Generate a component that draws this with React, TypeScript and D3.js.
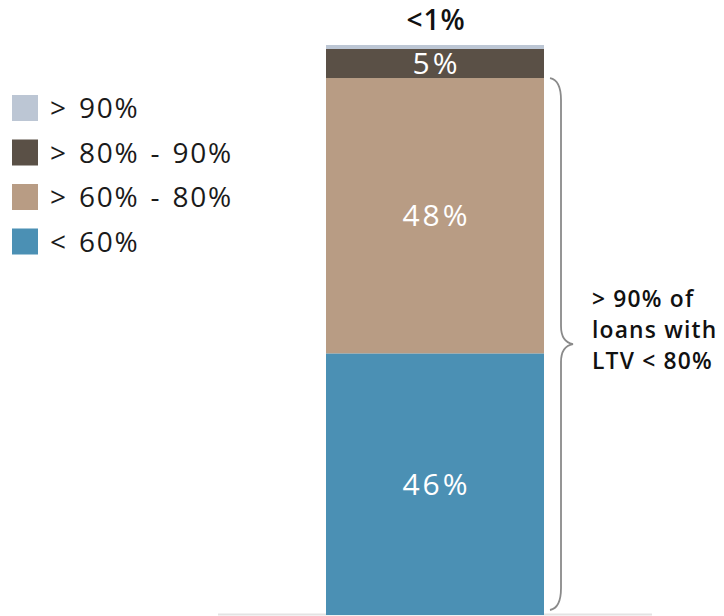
import React from "react";
import * as d3 from "d3";

const categories = ["< 60%", "> 60% - 80%", "> 80% - 90%", "> 90%"];
const values = [45.9, 48.3, 5.1, 0.7];
const valueLabels = ["46%", "48%", "5%", "<1%"];
const colors = ["#4b90b4", "#b89c84", "#5a5046", "#bcc6d4"];
const legendOrder = ["> 90%", "> 80% - 90%", "> 60% - 80%", "< 60%"];
const bracketLines = ["> 90% of", "loans with", "LTV < 80%"];

const W = 724;
const H = 616;
const FONT = "'Open Sans', 'DejaVu Sans', sans-serif";

export default function App() {
  const y = d3.scaleLinear().domain([0, 100]).range([615, 45]);
  const x = d3.scaleBand().domain(["LTV"]).range([326, 544]).padding(0);
  const bx = x("LTV")!;
  const bw = x.bandwidth();
  const cx = bx + bw / 2;

  const stack = d3.stack<any>().keys(categories)([
    Object.fromEntries(categories.map((c, i) => [c, values[i]])),
  ]);

  const top = y(values[0] + values[1]);
  const bot = y(0) - 5;
  const mid = (top + bot) / 2;
  const bxL = bx + bw + 6;
  const bxV = bxL + 11;
  const tipX = bxV + 12;
  const bracket = `M${bxL},${top} Q${bxV},${top + 2} ${bxV},${top + 22} L${bxV},${mid - 18} Q${bxV},${mid - 2} ${tipX},${mid} Q${bxV},${mid + 2} ${bxV},${mid + 18} L${bxV},${bot - 22} Q${bxV},${bot - 2} ${bxL},${bot}`;

  return (
    <svg width={W} height={H} style={{ position: "absolute", left: 0, top: 0 }}>
      <rect width={W} height={H} fill="#fff" />
      <line x1={218} x2={652} y1={614.5} y2={614.5} stroke="#e3e3e3" strokeWidth={2} />
      {stack.map((s, i) => {
        const d = s[0];
        return (
          <rect key={categories[i]} x={bx} width={bw} y={y(d[1])} height={y(d[0]) - y(d[1])} fill={colors[i]} />
        );
      })}
      {stack.map((s, i) => {
        const d = s[0];
        if (i === 3) {
          return (
            <text key={"l" + i} x={cx + 1} y={30} textAnchor="middle" fontFamily={FONT} fontSize={28} fontWeight={600} letterSpacing={1} fill="#111">
              {valueLabels[i]}
            </text>
          );
        }
        const cy = (y(d[0]) + y(d[1])) / 2;
        return (
          <text key={"l" + i} x={cx + 1.5} y={cy + 10.5} textAnchor="middle" fontFamily={FONT} fontSize={30} letterSpacing={3} fill="#fff">
            {valueLabels[i]}
          </text>
        );
      })}
      <path d={bracket} fill="none" stroke="#8a8a8a" strokeWidth={1.8} />
      {bracketLines.map((t, i) => (
        <text key={t} x={592} y={307 + i * 31} fontFamily={FONT} fontSize={22.8} fontWeight={600} letterSpacing={1.2} fill="#111">
          {t}
        </text>
      ))}
      {legendOrder.map((name, i) => {
        const ci = categories.indexOf(name);
        const ry = 95 + i * 44.5;
        return (
          <g key={name}>
            <rect x={12} y={ry} width={26} height={26} fill={colors[ci]} />
            <text x={50} y={ry + 23} fontFamily={FONT} fontSize={28} letterSpacing={1.8} wordSpacing={2} fill="#1a1a1a">
              {name}
            </text>
          </g>
        );
      })}
    </svg>
  );
}
